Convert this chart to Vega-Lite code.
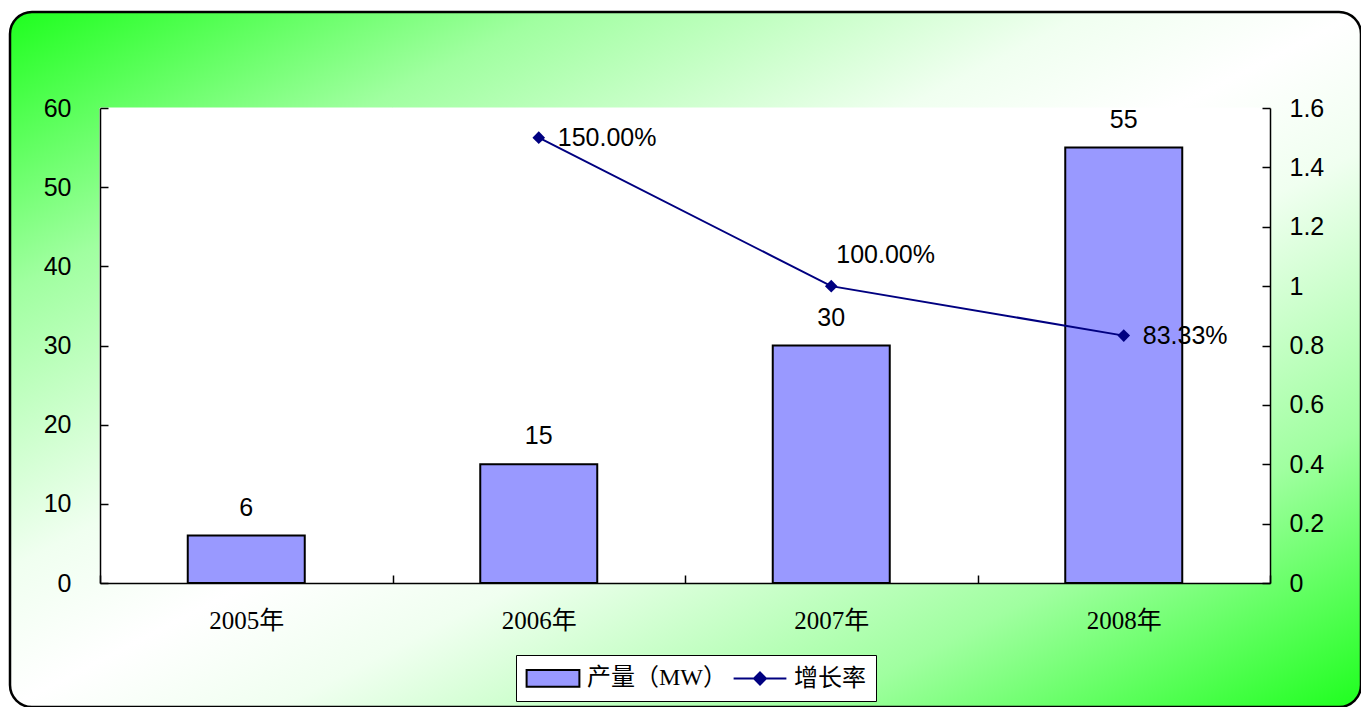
{
  "$schema": "https://vega.github.io/schema/vega-lite/v6.json",
  "width": 1351,
  "height": 695,
  "autosize": {"type": "none"},
  "padding": {"left": 10, "top": 12, "right": 0, "bottom": 0},
  "background": "white",
  "view": {
    "fill": {
      "gradient": "linear",
      "x1": 0, "y1": 0, "x2": 1, "y2": 1,
      "stops": [
        {"offset": 0, "color": "#1EFF1E"},
        {"offset": 0.2, "color": "#A0FFA0"},
        {"offset": 0.4, "color": "#F0FFF0"},
        {"offset": 0.5, "color": "#FFFFFF"},
        {"offset": 0.6, "color": "#F0FFF0"},
        {"offset": 0.8, "color": "#A0FFA0"},
        {"offset": 1, "color": "#1EFF1E"}
      ]
    },
    "stroke": "black",
    "strokeWidth": 2.5,
    "cornerRadius": 22
  },
  "data": {
    "values": [
      {"year": "2005年", "output": 6, "rate": null},
      {"year": "2006年", "output": 15, "rate": 1.5},
      {"year": "2007年", "output": 30, "rate": 1.0},
      {"year": "2008年", "output": 55, "rate": 0.8333}
    ]
  },
  "encoding": {
    "x": {
      "field": "year",
      "type": "nominal",
      "sort": null,
      "title": null,
      "scale": {"range": [90, 1260], "paddingInner": 0, "paddingOuter": 0},
      "axis": {
        "orient": "bottom",
        "offset": -124,
        "tickBand": "extent",
        "tickSize": -8,
        "labelPadding": 33,
        "labelAngle": 0,
        "labelFont": "Liberation Serif, Noto Sans CJK SC",
        "labelFontSize": 25,
        "labelColor": "black",
        "domainColor": "black",
        "domainWidth": 1.5,
        "tickColor": "black",
        "tickWidth": 1.5,
        "grid": false,
        "zindex": 1
      }
    }
  },
  "layer": [
    {
      "layer": [
        {
          "mark": {"type": "rect", "fill": "white", "stroke": "white", "strokeWidth": 1},
          "encoding": {
            "y": {"datum": 0, "type": "quantitative", "title": null},
            "y2": {"datum": 60}
          }
        },
        {
          "mark": {"type": "bar", "width": {"band": 0.4}, "stroke": "black", "strokeWidth": 2},
          "encoding": {
            "y": {
              "field": "output",
              "type": "quantitative",
              "title": null,
              "scale": {"domain": [0, 60], "range": [571, 96], "nice": false},
              "axis": {
                "orient": "left",
                "offset": -90,
                "values": [0, 10, 20, 30, 40, 50, 60],
                "tickSize": -8,
                "labelPadding": 37,
                "labelFont": "Liberation Sans",
                "labelFontSize": 25,
                "labelColor": "black",
                "domainColor": "black",
                "domainWidth": 1.5,
                "tickColor": "black",
                "tickWidth": 1.5,
                "grid": false,
                "title": null,
                "zindex": 1
              }
            },
            "color": {
              "datum": "产量（MW）",
              "scale": {"domain": ["产量（MW）", "增长率"], "range": ["#9999FF", "#000080"]},
              "legend": {
                "title": null,
                "orient": "none",
                "legendX": 506,
                "legendY": 643,
                "direction": "horizontal",
                "padding": 10,
                "columnPadding": 2,
                "fillColor": "white",
                "strokeColor": "black",
                "labelFont": "Liberation Serif, Noto Sans CJK SC",
                "labelFontSize": 24,
                "labelColor": "black",
                "labelOffset": 21,
                "symbolSize": 576,
                "symbolOffset": 14,
                "symbolStrokeWidth": 2,
                "symbolOpacity": 1,
                "encoding": {
                  "symbols": {
                    "shape": {
                      "condition": {"test": "datum.value === '增长率'", "value": "M-2.2,0H2.2M0,-0.5L0.5,0L0,0.5L-0.5,0Z"},
                      "value": "M-2.2,-0.7H2.2V0.7H-2.2Z"
                    },
                    "fill": {
                      "condition": {"test": "datum.value === '增长率'", "value": "#000080"},
                      "value": "#9999FF"
                    },
                    "stroke": {
                      "condition": {"test": "datum.value === '增长率'", "value": "#000080"},
                      "value": "#000000"
                    }
                  }
                }
              }
            }
          }
        },
        {
          "mark": {"type": "text", "baseline": "alphabetic", "dy": -20, "font": "Liberation Sans", "fontSize": 25, "color": "black"},
          "encoding": {
            "y": {"field": "output", "type": "quantitative"},
            "text": {"field": "output", "type": "quantitative"}
          }
        }
      ]
    },
    {
      "layer": [
        {
          "mark": {"type": "line", "strokeWidth": 2, "color": "#000080"},
          "encoding": {
            "y": {
              "field": "rate",
              "type": "quantitative",
              "title": null,
              "scale": {"domain": [0, 1.6], "range": [571, 96], "nice": false},
              "axis": {
                "orient": "right",
                "offset": -91,
                "values": [0, 0.2, 0.4, 0.6, 0.8, 1, 1.2, 1.4, 1.6],
                "format": "~g",
                "tickSize": -8,
                "labelPadding": 27,
                "labelFont": "Liberation Sans",
                "labelFontSize": 25,
                "labelColor": "black",
                "domainColor": "black",
                "domainWidth": 1.5,
                "tickColor": "black",
                "tickWidth": 1.5,
                "grid": false,
                "title": null,
                "zindex": 1
              }
            }
          }
        },
        {
          "mark": {"type": "point", "shape": "diamond", "filled": true, "size": 160, "color": "#000080", "opacity": 1},
          "encoding": {
            "y": {"field": "rate", "type": "quantitative"}
          }
        },
        {
          "transform": [{"filter": {"field": "year", "oneOf": ["2006年", "2008年"]}}],
          "mark": {"type": "text", "align": "left", "baseline": "middle", "dx": 19, "font": "Liberation Sans", "fontSize": 25, "color": "black"},
          "encoding": {
            "y": {"field": "rate", "type": "quantitative"},
            "text": {"field": "rate", "type": "quantitative", "format": ".2%"}
          }
        },
        {
          "transform": [{"filter": {"field": "year", "equal": "2007年"}}],
          "mark": {"type": "text", "align": "left", "baseline": "middle", "dx": 5, "dy": -31, "font": "Liberation Sans", "fontSize": 25, "color": "black"},
          "encoding": {
            "y": {"field": "rate", "type": "quantitative"},
            "text": {"field": "rate", "type": "quantitative", "format": ".2%"}
          }
        }
      ]
    }
  ],
  "resolve": {"scale": {"y": "independent"}}
}
